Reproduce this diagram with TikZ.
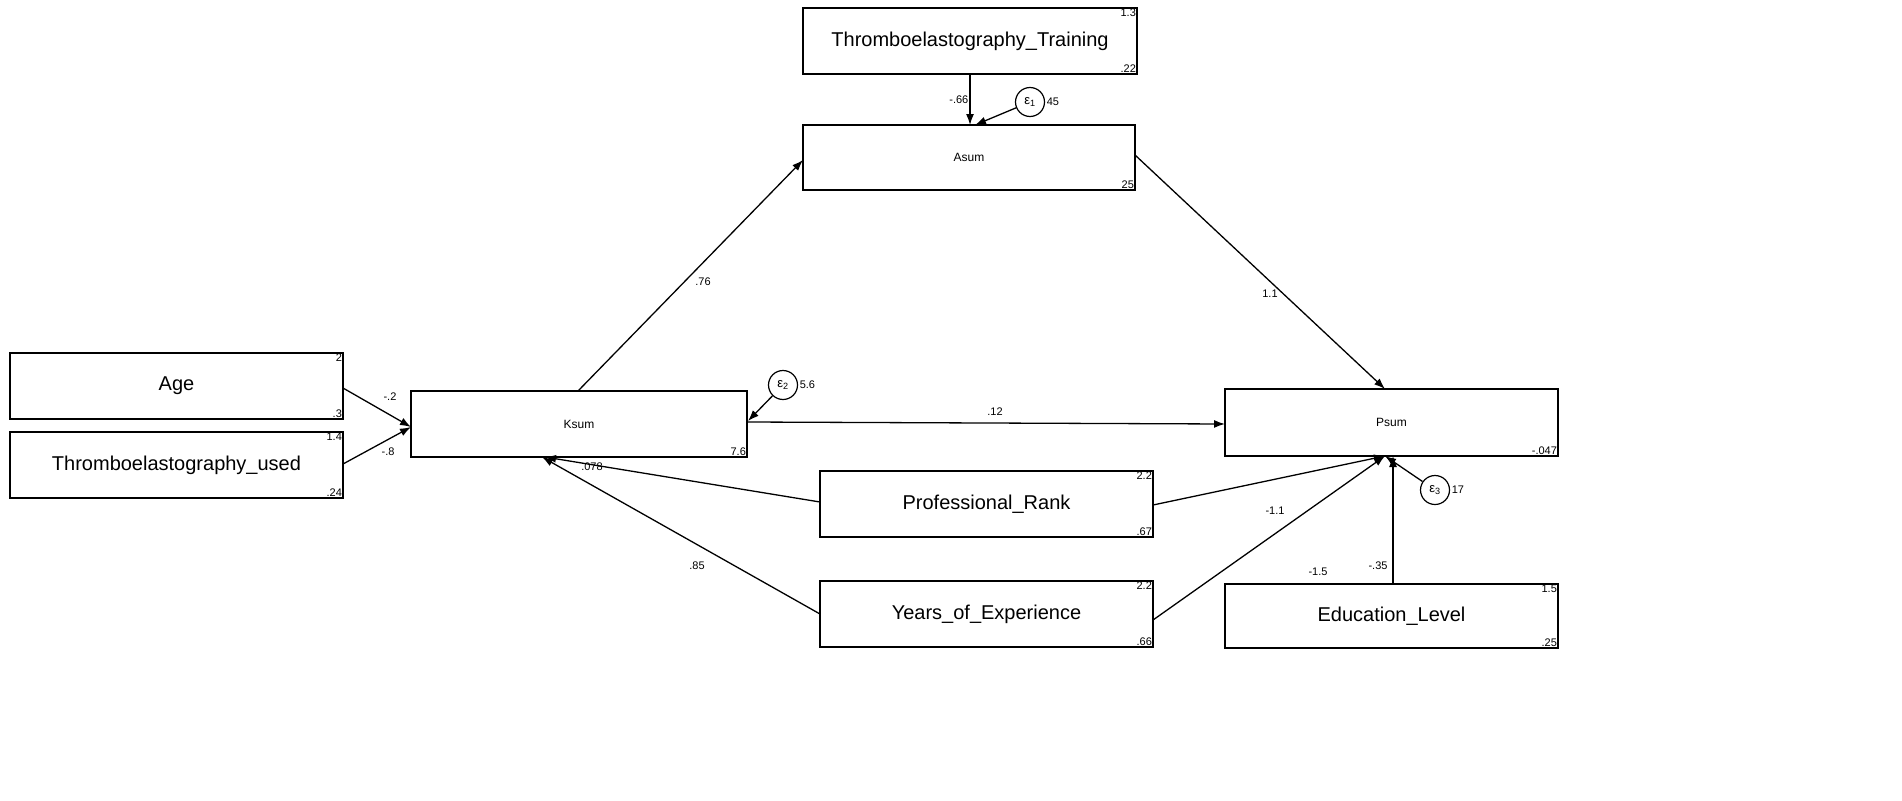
\documentclass[tikz,border=0pt]{standalone}
\usepackage{fontspec}
\setmainfont{Liberation Sans}
\usetikzlibrary{arrows.meta}
\begin{document}
\begin{tikzpicture}[x=1pt,y=-1pt,
  bx/.style={draw,line width=1.2pt,inner sep=0,minimum width=333pt,minimum height=66pt},
  cn/.style={font=\fontsize{11}{13}\selectfont,inner sep=1.5pt},
  err/.style={draw,circle,line width=1.2pt,minimum size=29pt,inner sep=0,font=\fontsize{13}{15}\selectfont},
  ar/.style={line width=1.3pt,-{Latex[length=11pt,width=8pt]}},
  lb/.style={font=\fontsize{11}{13}\selectfont,inner sep=1pt}]
\useasboundingbox (0,0) rectangle (1902,800);
\newcommand{\bxn}[6]{% name, x1,y1,x2,y2, text
  \node[bx,minimum width=#4-#2,minimum height=#5-#3] (#1) at ({(#2+#4)/2},{(#3+#5)/2}) {#6};}
\bxn{tr}{803}{8}{1137}{74}{\fontsize{20}{24}\selectfont Thromboelastography\_Training}
\bxn{as}{803}{125}{1135}{190}{\fontsize{12}{14}\selectfont Asum}
\bxn{age}{10}{353}{343}{419}{\fontsize{20}{24}\selectfont Age}
\bxn{tu}{10}{432}{343}{498}{\fontsize{20}{24}\selectfont Thromboelastography\_used}
\bxn{ks}{411}{391}{747}{457}{\fontsize{12}{14}\selectfont Ksum}
\bxn{ps}{1225}{389}{1558}{456}{\fontsize{12}{14}\selectfont Psum}
\bxn{pr}{820}{471}{1153}{537}{\fontsize{20}{24}\selectfont Professional\_Rank}
\bxn{ye}{820}{581}{1153}{647}{\fontsize{20}{24}\selectfont Years\_of\_Experience}
\bxn{ed}{1225}{584}{1558}{648}{\fontsize{20}{24}\selectfont Education\_Level}
% corner numbers
\foreach \n/\t/\b in {tr/1.3/.22,age/2/.3,tu/1.4/.24,pr/2.2/.67,ye/2.2/.66,ed/1.5/.25}{
  \node[cn,anchor=north east] at (\n.north east) {\t};
  \node[cn,anchor=south east] at (\n.south east) {\b};}
\node[cn,anchor=south east] at (as.south east) {25};
\node[cn,anchor=south east] at (ks.south east) {7.6};
\node[cn,anchor=south east] at (ps.south east) {-.047};
% errors
\node[err] (e1) at (1030,102) {ε\textsubscript{1}};
\node[err] (e2) at (783,385) {ε\textsubscript{2}};
\node[err] (e3) at (1435,490) {ε\textsubscript{3}};
\node[cn,anchor=west] at (e1.east) {45};
\node[cn,anchor=west] at (e2.east) {5.6};
\node[cn,anchor=west] at (e3.east) {17};
% coordinates
\coordinate (asT) at (970,125);
\coordinate (asT2) at (975,125);
\coordinate (ksL) at (411,427);
\coordinate (psB) at (1385,456);
\coordinate (psB2) at (1393,456);
\draw[ar] (tr.south -| asT) -- (asT) node[lb,midway,left] {-.66};
\draw[ar] (e1) -- (asT2);
\draw[ar] (578,391) -- (803,160);
\node[lb] at (703,282) {.76};
\draw[ar] (1135,155) -- (1385,389);
\node[lb] at (1270,294) {1.1};
\draw[ar] (343,388) -- (ksL);
\node[lb] at (390,397) {-.2};
\draw[ar] (343,464) -- (ksL);
\node[lb] at (388,452) {-.8};
\draw[ar] (e2) -- (748,421);
\draw[ar] (748,422) -- (1225,424);
\node[lb] at (995,412) {.12};
\draw[ar] (820,502) -- (545,457);
\node[lb] at (592,467) {.078};
\draw[ar] (820,614) -- (542,457);
\node[lb] at (697,566) {.85};
\draw[ar] (1153,505) -- (psB);
\node[lb] at (1275,511) {-1.1};
\draw[ar] (1153,620) -- (psB);
\node[lb] at (1318,572) {-1.5};
\draw[ar] (ed.north -| psB2) -- (psB2);
\node[lb] at (1378,566) {-.35};
\draw[ar] (e3) -- (psB);
\end{tikzpicture}
\end{document}
